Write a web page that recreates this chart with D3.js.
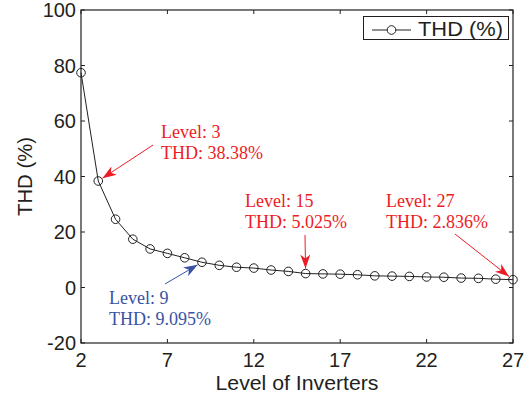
<!DOCTYPE html>
<html>
<head>
<meta charset="utf-8">
<script src="https://cdn.jsdelivr.net/npm/d3@7/dist/d3.min.js"></script>
<style>
  body { margin: 0; background: #fff; }
  svg { display: block; }
  .tick-label { font-family: "Liberation Sans", Arial, sans-serif; font-size: 20px; fill: #231f20; }
  .note { font-family: "Liberation Serif", "Times New Roman", serif; font-size: 18px; }
</style>
</head>
<body>
<div id="chart"></div>
<script>
// THD (%) for each inverter level
var levels = d3.range(2, 28);
var thd = [77.4, 38.38, 24.6, 17.4, 13.9, 12.3, 10.7, 9.095, 8.0, 7.3, 7.0, 6.3, 5.8,
           5.025, 4.9, 4.8, 4.6, 4.2, 4.1, 4.0, 3.8, 3.7, 3.4, 3.3, 3.0, 2.836];
var x_ticks = [2, 7, 12, 17, 22, 27];
var y_ticks = [-20, 0, 20, 40, 60, 80, 100];

// annotations: level, text lines, color, where the text and arrow start
var notes = [
    {level: 3,  lines: ["Level: 3", "THD: 38.38%"],  color: "#ed1c24", tx: 161, ty: 138, ax: 153, ay: 145},
    {level: 9,  lines: ["Level: 9", "THD: 9.095%"],  color: "#3953a4", tx: 109, ty: 304, ax: 165, ay: 284},
    {level: 15, lines: ["Level: 15", "THD: 5.025%"], color: "#ed1c24", tx: 245, ty: 207, ax: 305, ay: 235},
    {level: 27, lines: ["Level: 27", "THD: 2.836%"], color: "#ed1c24", tx: 386, ty: 207, ax: 455, ay: 234}
];

var width = 529, height = 398;
var margin = {top: 10, right: 16, bottom: 55, left: 81};
var plot_w = width - margin.left - margin.right,
    plot_h = height - margin.top - margin.bottom;

var svg = d3.select("#chart").append("svg")
    .attr("width", width)
    .attr("height", height);

var defs = svg.append("defs");
["#ed1c24", "#3953a4"].forEach(function(c, i) {
    defs.append("marker")
        .attr("id", "arrow" + i)
        .attr("viewBox", "0 0 14 10")
        .attr("refX", 14)
        .attr("refY", 5)
        .attr("markerUnits", "userSpaceOnUse")
        .attr("markerWidth", 14)
        .attr("markerHeight", 10)
        .attr("orient", "auto")
        .append("path")
        .attr("d", "M 0 0 L 14 5 L 0 10 L 4 5 z")
        .attr("fill", c);
});

var g = svg.append("g")
    .attr("transform", "translate(" + margin.left + "," + margin.top + ")");

var x = d3.scaleLinear().domain([2, 27]).range([0, plot_w]);
var y = d3.scaleLinear().domain([-20, 100]).range([plot_h, 0]);

// frame
g.append("rect")
    .attr("width", plot_w)
    .attr("height", plot_h)
    .attr("fill", "none")
    .attr("stroke", "#231f20")
    .attr("stroke-width", 1.2);

// inward ticks on all four sides
var tick_len = 4;
var ticks = g.append("g").attr("stroke", "#231f20").attr("stroke-width", 1);
x_ticks.forEach(function(t) {
    ticks.append("line").attr("x1", x(t)).attr("x2", x(t)).attr("y1", plot_h).attr("y2", plot_h - tick_len);
    ticks.append("line").attr("x1", x(t)).attr("x2", x(t)).attr("y1", 0).attr("y2", tick_len);
});
y_ticks.forEach(function(t) {
    ticks.append("line").attr("x1", 0).attr("x2", tick_len).attr("y1", y(t)).attr("y2", y(t));
    ticks.append("line").attr("x1", plot_w).attr("x2", plot_w - tick_len).attr("y1", y(t)).attr("y2", y(t));
});

g.selectAll(".xl").data(x_ticks).enter().append("text")
    .attr("class", "tick-label")
    .attr("x", function(d) { return x(d); })
    .attr("y", plot_h + 24)
    .attr("text-anchor", "middle")
    .text(function(d) { return d; });

g.selectAll(".yl").data(y_ticks).enter().append("text")
    .attr("class", "tick-label")
    .attr("x", -5)
    .attr("y", function(d) { return y(d) + 7; })
    .attr("text-anchor", "end")
    .text(function(d) { return d; });

// axis titles
svg.append("text")
    .attr("class", "tick-label")
    .attr("x", margin.left + plot_w / 2)
    .attr("y", 390)
    .attr("text-anchor", "middle")
    .attr("textLength", 163)
    .attr("lengthAdjust", "spacingAndGlyphs")
    .text("Level of Inverters");

svg.append("text")
    .attr("class", "tick-label")
    .attr("transform", "translate(32," + (margin.top + plot_h / 2) + ")rotate(-90)")
    .attr("text-anchor", "middle")
    .attr("textLength", 79)
    .attr("lengthAdjust", "spacingAndGlyphs")
    .text("THD (%)");

// data line
var data = levels.map(function(l, i) { return {level: l, thd: thd[i]}; });

g.append("path")
    .datum(data)
    .attr("fill", "none")
    .attr("stroke", "#231f20")
    .attr("stroke-width", 1)
    .attr("d", d3.line()
        .x(function(d) { return x(d.level); })
        .y(function(d) { return y(d.thd); }));

g.selectAll(".pt").data(data).enter().append("circle")
    .attr("cx", function(d) { return x(d.level); })
    .attr("cy", function(d) { return y(d.thd); })
    .attr("r", 4.3)
    .attr("fill", "none")
    .attr("stroke", "#231f20")
    .attr("stroke-width", 1);

// annotations
notes.forEach(function(n) {
    var mid = n.color === "#3953a4" ? 1 : 0;
    var px = margin.left + x(n.level),
        py = margin.top + y(thd[levels.indexOf(n.level)]);
    var dx = px - n.ax, dy = py - n.ay, len = Math.sqrt(dx * dx + dy * dy);
    var off = 5;
    svg.append("line")
        .attr("x1", n.ax).attr("y1", n.ay)
        .attr("x2", px - dx / len * off).attr("y2", py - dy / len * off)
        .attr("stroke", n.color)
        .attr("stroke-width", 1)
        .attr("marker-end", "url(#arrow" + mid + ")");
    n.lines.forEach(function(s, i) {
        svg.append("text")
            .attr("class", "note")
            .attr("x", n.tx)
            .attr("y", n.ty + i * 21)
            .attr("fill", n.color)
            .text(s);
    });
});

// legend
var leg = svg.append("g");
leg.append("rect")
    .attr("x", 363.5).attr("y", 16.5)
    .attr("width", 145).attr("height", 23)
    .attr("fill", "#fff")
    .attr("stroke", "#231f20")
    .attr("stroke-width", 1);
leg.append("line")
    .attr("x1", 372).attr("x2", 411).attr("y1", 30).attr("y2", 30)
    .attr("stroke", "#231f20");
leg.append("circle")
    .attr("cx", 391.5).attr("cy", 30).attr("r", 4.3)
    .attr("fill", "#fff").attr("stroke", "#231f20");
leg.append("text")
    .attr("class", "tick-label")
    .attr("x", 418).attr("y", 36)
    .attr("textLength", 85)
    .attr("lengthAdjust", "spacingAndGlyphs")
    .text("THD (%)");
</script>
</body>
</html>
